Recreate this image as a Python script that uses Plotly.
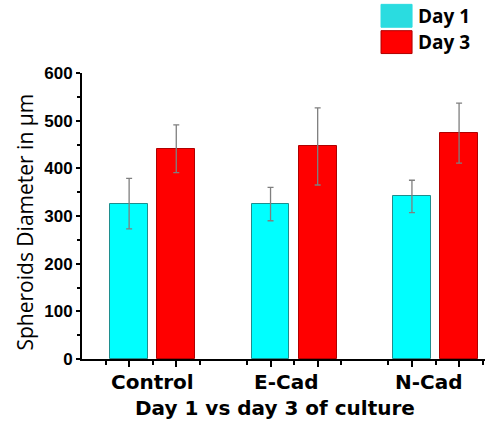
import plotly.graph_objects as go

# Spheroid diameter (µm), mean and SD per condition
categories = ["Control", "E-Cad", "N-Cad"]
series_names = ["Day 1", "Day 3"]
day1_mean = [326, 325, 341]
day1_sd = [53, 35, 34]
day3_mean = [441, 446, 474]
day3_sd = [50, 81, 63]
y_ticks = [0, 100, 200, 300, 400, 500, 600]

fill_colors = ["#00FFFF", "#FF0000"]
edge_colors = ["#1E8E8E", "#B00000"]

# each condition occupies 3 slots on a numeric axis: Day 1, Day 3, gap
n = len(categories)
x_day1 = [3 * i + 1 for i in range(n)]
x_day3 = [3 * i + 2 for i in range(n)]
group_centers = [3 * i + 1.5 for i in range(n)]

fig = go.Figure()
for name, xs, ys, sd, fc, ec in [
    (series_names[0], x_day1, day1_mean, day1_sd, fill_colors[0], edge_colors[0]),
    (series_names[1], x_day3, day3_mean, day3_sd, fill_colors[1], edge_colors[1]),
]:
    fig.add_trace(go.Bar(
        x=xs, y=ys, name=name, width=0.8,
        marker=dict(color=fc, line=dict(color=ec, width=1)),
        error_y=dict(type="data", array=sd, visible=True,
                     color="#7F7F7F", thickness=1.3, width=3),
        showlegend=False,
    ))

fig.update_layout(
    width=501, height=429,
    margin=dict(l=82, r=16, t=73, b=70),
    paper_bgcolor="white", plot_bgcolor="white",
    bargap=0,
    xaxis=dict(
        range=[0, 8.55], showgrid=False, zeroline=False,
        showline=True, linecolor="black", linewidth=2,
        tickmode="array", tickvals=x_day1 + x_day3, showticklabels=False,
        ticks="outside", ticklen=6, tickwidth=2, tickcolor="black",
        minor=dict(tickmode="array",
                   tickvals=[v + 0.5 for v in range(9)],
                   ticks="outside", ticklen=4, tickwidth=2, tickcolor="black"),
    ),
    yaxis=dict(
        range=[0, 600], showgrid=False, zeroline=False,
        showline=True, linecolor="black", linewidth=2,
        tickmode="array", tickvals=y_ticks,
        ticktext=[f"<b>{v}</b>" for v in y_ticks],
        ticks="outside", ticklen=4, tickwidth=2, tickcolor="black",
        tickfont=dict(family="Liberation Sans", size=17, color="black"),
        minor=dict(tickmode="array", tickvals=[v + 50 for v in y_ticks[:-1]],
                   ticks="outside", ticklen=3, tickwidth=2, tickcolor="black"),
    ),
)

# y-axis title, written vertically beside the tick labels
fig.add_annotation(x=-0.142, y=0.48, xref="paper", yref="paper",
                   xanchor="center", yanchor="middle",
                   text="Spheroids Diameter in μm", textangle=-90, showarrow=False,
                   font=dict(family="Open Sans", size=21, color="black"))

# condition labels under each pair of bars
label_shift = [0, -8, -7]
for c, xc, dx in zip(categories, group_centers, label_shift):
    fig.add_annotation(x=xc, y=0, xref="x", yref="y", yanchor="top",
                       yshift=-9, xshift=dx, text=f"<b>{c}</b>", showarrow=False,
                       font=dict(family="DejaVu Sans", size=20, color="black"))

fig.add_annotation(x=0.48, y=-0.122, xref="paper", yref="paper", yanchor="top",
                   text="<b>Day 1 vs day 3 of culture</b>", showarrow=False,
                   font=dict(family="DejaVu Sans", size=20, color="black"))

# legend: colour swatches with labels, top right
for k, (name, fc, ec) in enumerate(zip(series_names, fill_colors, edge_colors)):
    y_top = 1.24 - k * 0.092
    fig.add_shape(type="rect", xref="paper", yref="paper",
                  x0=0.742, x1=0.819, y0=y_top - 0.08, y1=y_top,
                  fillcolor=fc if k else "#2ADCE0", line=dict(color=ec if k else "#2ADCE0", width=1))
    fig.add_annotation(x=0.83, y=y_top - 0.04, xref="paper", yref="paper",
                       xanchor="left", yanchor="middle", text=f"<b>{name}</b>", showarrow=False,
                       font=dict(family="Open Sans", size=19, color="black"))

fig.write_html("out.html")
